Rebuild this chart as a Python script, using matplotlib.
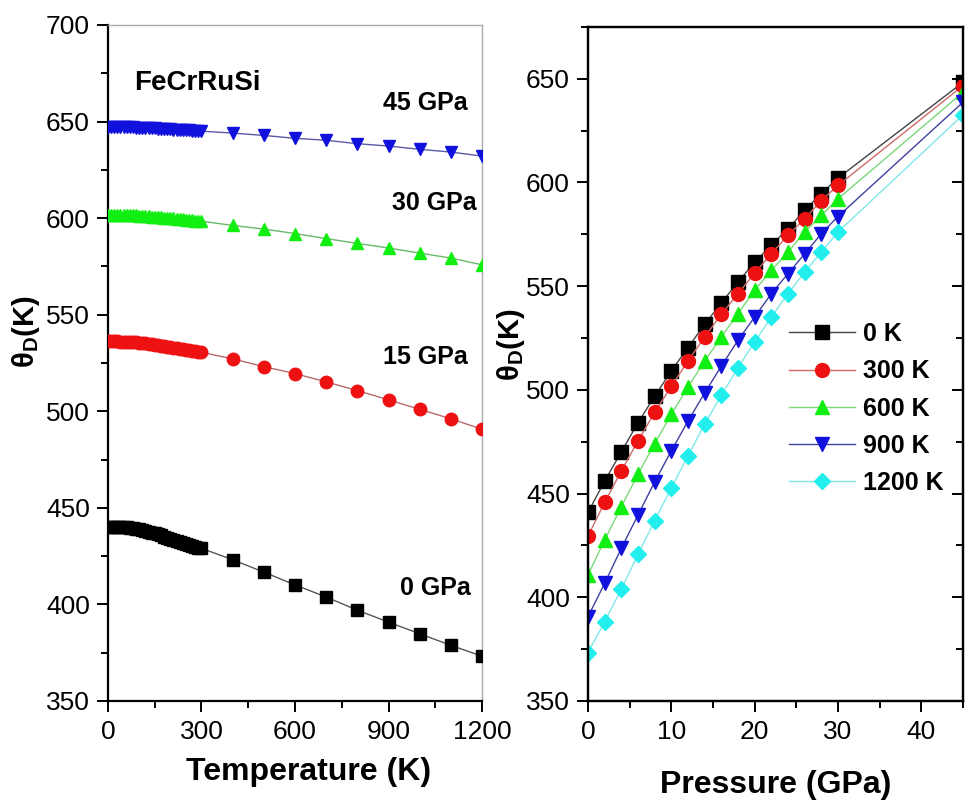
import numpy as np
import matplotlib
matplotlib.use("Agg")
import matplotlib.pyplot as plt
from matplotlib.ticker import MultipleLocator

plt.rcParams['font.family'] = ['Liberation Sans', 'DejaVu Sans']
plt.rcParams['mathtext.fontset'] = 'custom'
plt.rcParams['mathtext.rm'] = 'Liberation Sans'
plt.rcParams['mathtext.bf'] = 'Liberation Sans:bold'

# ---- left panel: theta_D vs temperature at fixed pressure ----
T = list(range(0, 301, 10)) + [400, 500, 600, 700, 800, 900, 1000, 1100, 1200]

theta_0GPa = [440.2, 440.2, 440.2, 440.2, 440.1, 440.0, 439.9, 439.7, 439.5, 439.2,
              438.9, 438.5, 438.1, 437.7, 437.2, 436.7, 436.2, 435.7, 435.1, 434.6,
              434.0, 433.5, 432.9, 432.4, 431.8, 431.3, 430.8, 430.3, 429.8, 429.4,
              429.0,
              423.1, 416.7, 410.1, 403.8, 397.0, 390.8, 384.8, 378.8, 373.2]
theta_15GPa = [536.2, 536.2, 536.2, 536.2, 536.1, 536.1, 536.0, 535.9, 535.8, 535.6,
               535.5, 535.3, 535.1, 534.9, 534.7, 534.5, 534.2, 534.0, 533.7, 533.5,
               533.2, 532.9, 532.7, 532.4, 532.1, 531.9, 531.6, 531.3, 531.0, 530.8,
               530.5,
               527.1, 523.1, 519.5, 515.2, 510.7, 505.9, 501.0, 496.1, 490.7]
theta_30GPa = [601.7, 601.7, 601.7, 601.7, 601.7, 601.7, 601.6, 601.6, 601.5, 601.4,
               601.3, 601.2, 601.1, 601.0, 600.8, 600.7, 600.5, 600.4, 600.2, 600.1,
               599.9, 599.8, 599.6, 599.5, 599.3, 599.2, 599.0, 598.9, 598.7, 598.6,
               598.4,
               596.2, 594.3, 592.0, 589.4, 586.9, 584.5, 581.9, 579.3, 575.8]
theta_45GPa = [647.0, 647.0, 647.0, 647.0, 647.0, 647.0, 647.0, 646.9, 646.9, 646.8,
               646.8, 646.7, 646.6, 646.6, 646.5, 646.4, 646.3, 646.2, 646.1, 646.0,
               645.9, 645.8, 645.7, 645.7, 645.6, 645.5, 645.4, 645.3, 645.2, 645.1,
               645.0,
               644.0, 642.8, 641.3, 640.3, 638.5, 637.3, 635.6, 634.2, 632.1]

# ---- right panel: theta_D vs pressure at fixed temperature ----
P = [0, 2, 4, 6, 8, 10, 12, 14, 16, 18, 20, 22, 24, 26, 28, 30, 45]
theta_0K = [440.9, 456.0, 470.1, 484.1, 496.9, 509.1, 520.4, 531.6, 541.9, 552.0,
            561.6, 569.7, 577.7, 586.5, 594.6, 602.1, 648.3]
theta_300K = [429.5, 445.7, 460.9, 475.4, 489.1, 501.7, 513.9, 525.5, 536.4, 546.4,
              556.3, 565.6, 574.5, 582.5, 591.3, 598.6, 646.7]
theta_600K = [410.7, 427.6, 443.6, 459.3, 474.1, 488.2, 501.4, 513.8, 525.5, 536.8,
              548.0, 557.6, 566.4, 576.1, 584.1, 592.1, 643.5]
theta_900K = [390.6, 406.7, 423.6, 439.6, 455.6, 470.6, 484.9, 498.5, 511.4, 523.9,
              535.1, 546.4, 556.0, 565.6, 575.3, 583.6, 638.7]
theta_1200K = [373.3, 388.2, 403.8, 420.7, 436.8, 452.7, 468.2, 483.4, 497.4, 510.7,
               523.1, 535.1, 546.4, 556.8, 566.4, 576.1, 632.6]

left_series = [
    ("0 GPa", theta_0GPa, 's', 'black', '#555555'),
    ("15 GPa", theta_15GPa, 'o', '#ee1111', '#b86a6a'),
    ("30 GPa", theta_30GPa, '^', '#11ee11', '#6ab86a'),
    ("45 GPa", theta_45GPa, 'v', '#1111dd', '#5a5aa8'),
]
right_series = [
    ("0 K", theta_0K, 's', 'black', '#444444'),
    ("300 K", theta_300K, 'o', '#ee1111', '#d06a6a'),
    ("600 K", theta_600K, '^', '#11ee11', '#7ad87a'),
    ("900 K", theta_900K, 'v', '#1111dd', '#4040a0'),
    ("1200 K", theta_1200K, 'D', '#22eeee', '#80e8e8'),
]

fig = plt.figure(figsize=(9.72, 8.07), dpi=100)
ax1 = fig.add_axes([0.1111, 0.1314, 0.3848, 0.8377])
ax2 = fig.add_axes([0.6049, 0.1314, 0.3858, 0.8352])

for name, th, mk, c, lc in left_series:
    ax1.plot(T, th, '-', color=lc, lw=1.0, zorder=2)
    ax1.plot(T, th, linestyle='none', marker=mk, ms=9, mfc=c, mec=c, zorder=3)

for name, th, mk, c, lc in right_series:
    ms = 8.5 if mk == 'D' else 10
    ax2.plot(P, th, '-', color=lc, lw=1.0, marker=mk, ms=ms, mfc=c, mec=c, label=name)

# left axes style
ax1.set_xlim(0, 1200)
ax1.set_ylim(350, 700)
ax1.xaxis.set_major_locator(MultipleLocator(300))
ax1.xaxis.set_minor_locator(MultipleLocator(150))
ax1.yaxis.set_major_locator(MultipleLocator(50))
ax1.yaxis.set_minor_locator(MultipleLocator(25))
for s in ['left', 'bottom']:
    ax1.spines[s].set_linewidth(1.6)
for s in ['top', 'right']:
    ax1.spines[s].set_linewidth(1.0)
    ax1.spines[s].set_color('#aaaaaa')
ax1.tick_params(which='major', direction='out', length=8, width=1.4, labelsize=19, pad=5)
ax1.tick_params(which='minor', direction='out', length=5, width=1.4)
ax1.tick_params(axis='x', which='major', pad=6)

ax1.set_xlabel("Temperature (K)", fontsize=23, fontweight='bold')
ax1.xaxis.set_label_coords(0.537, -0.083)
ax1.set_ylabel(r"θ$_\mathbf{D}$(K)", fontsize=21, fontweight='bold')
ax1.yaxis.set_label_coords(-0.176, 0.546)

ax1.text(83, 670, "FeCrRuSi", fontsize=20, fontweight='bold', ha='left', va='center')
ax1.text(1155, 659.6, "45 GPa", fontsize=18, fontweight='bold', ha='right', va='center')
ax1.text(1184, 607.9, "30 GPa", fontsize=18, fontweight='bold', ha='right', va='center')
ax1.text(1155, 528.0, "15 GPa", fontsize=18, fontweight='bold', ha='right', va='center')
ax1.text(1165, 408.6, "0 GPa", fontsize=18, fontweight='bold', ha='right', va='center')

# right axes style
ax2.set_xlim(0, 45)
ax2.set_ylim(350, 675)
ax2.xaxis.set_major_locator(MultipleLocator(10))
ax2.xaxis.set_minor_locator(MultipleLocator(5))
ax2.yaxis.set_major_locator(MultipleLocator(50))
ax2.yaxis.set_minor_locator(MultipleLocator(25))
for s in ax2.spines.values():
    s.set_linewidth(1.6)
ax2.tick_params(which='major', direction='out', length=8, width=1.4, labelsize=19, pad=5)
ax2.tick_params(which='minor', direction='out', length=5, width=1.4)
ax2.tick_params(axis='x', which='major', pad=6)

# inward ticks on the right spine
ax2r = ax2.twinx()
ax2r.set_ylim(350, 675)
ax2r.yaxis.set_major_locator(MultipleLocator(50))
ax2r.yaxis.set_minor_locator(MultipleLocator(25))
ax2r.tick_params(which='major', direction='in', length=8, width=1.4, labelright=False)
ax2r.tick_params(which='minor', direction='in', length=5, width=1.4)
for s in ax2r.spines.values():
    s.set_linewidth(1.6)

ax2.set_xlabel("Pressure (GPa)", fontsize=23, fontweight='bold')
ax2.xaxis.set_label_coords(0.5, -0.102)
ax2.set_ylabel(r"θ$_\mathbf{D}$(K)", fontsize=21, fontweight='bold')
ax2.yaxis.set_label_coords(-0.163, 0.528)

leg = ax2.legend(loc='upper left', bbox_to_anchor=(0.536, 0.562), frameon=False,
                 prop={'size': 18, 'weight': 'bold'}, handlelength=2.65,
                 handletextpad=0.3, labelspacing=0.53, borderpad=0, borderaxespad=0)

fig.savefig("out.png", dpi=100, facecolor='white')
